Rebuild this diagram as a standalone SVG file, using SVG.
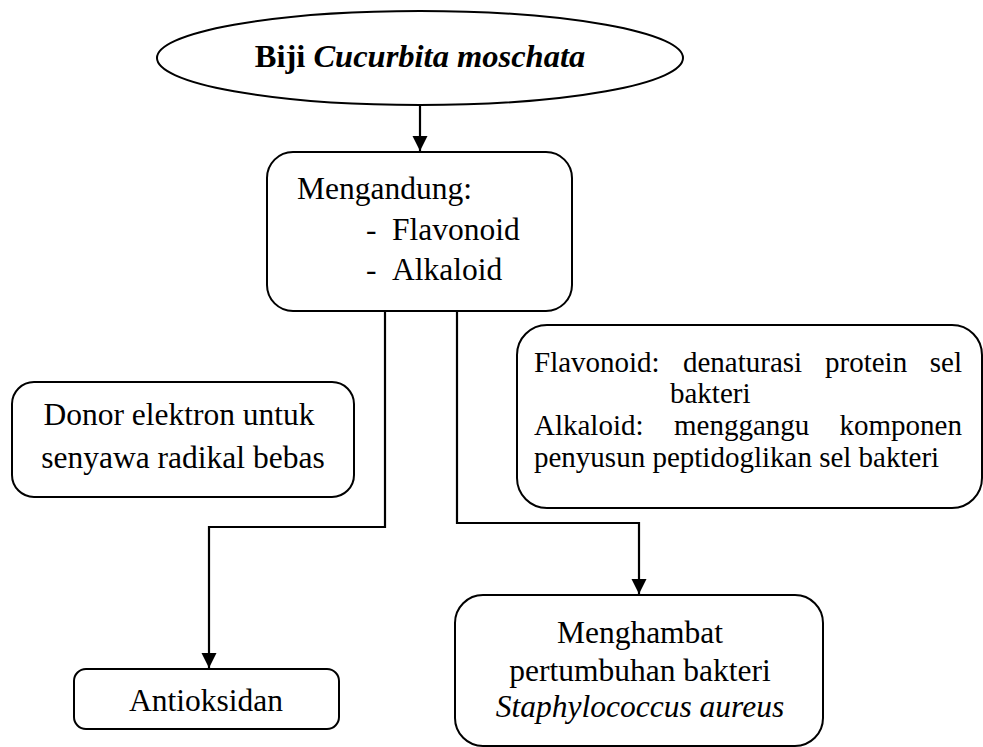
<svg xmlns="http://www.w3.org/2000/svg" width="983" height="747" viewBox="0 0 983 747">
<style>
.box{fill:#fff;stroke:#000;stroke-width:2}
.t{font-family:"Liberation Serif","Times New Roman",serif;font-size:31.5px;fill:#000}
.s{font-family:"Liberation Serif","Times New Roman",serif;font-size:29px;fill:#000}
.c{text-anchor:middle}
.line{fill:none;stroke:#000;stroke-width:2.2}
</style>
<defs>
<marker id="ah" markerWidth="15" markerHeight="16" refX="15" refY="7.5" orient="auto" markerUnits="userSpaceOnUse" viewBox="0 0 15 15">
<path d="M0,0 L15,7.5 L0,15 Z" fill="#000"/>
</marker>
</defs>
<rect width="983" height="747" fill="#fff"/>
<g id="connectors">
<path class="line" d="M420,105 V151" marker-end="url(#ah)"/>
<path class="line" d="M385,311 V527 H209 V668" marker-end="url(#ah)"/>
<path class="line" d="M457,311 V523 H639 V594" marker-end="url(#ah)"/>
</g>
<g id="biji">
<ellipse class="box" cx="420" cy="58" rx="263" ry="47"/>
<text class="t c" x="420" y="67" font-weight="bold" style="font-size:32.5px">Biji <tspan font-style="italic">Cucurbita moschata</tspan></text>
</g>
<g id="mengandung">
<rect class="box" x="267" y="152" width="305" height="159" rx="26"/>
<text class="t" x="297" y="199">Mengandung:</text>
<text class="t" x="366" y="240">-</text>
<text class="t" x="392" y="240">Flavonoid</text>
<text class="t" x="366" y="280">-</text>
<text class="t" x="392" y="280">Alkaloid</text>
</g>
<g id="donor">
<rect class="box" x="12" y="382" width="342" height="115" rx="22"/>
<text class="t c" x="179" y="425">Donor elektron untuk</text>
<text class="t c" x="183" y="468">senyawa radikal bebas</text>
</g>
<g id="mekanisme">
<rect class="box" x="517" y="325" width="465" height="183" rx="30"/>
<text class="s" x="534" y="372">Flavonoid:</text>
<text class="s" x="683" y="372">denaturasi</text>
<text class="s" x="825" y="372">protein</text>
<text class="s" x="962" y="372" text-anchor="end">sel</text>
<text class="s" x="670" y="403">bakteri</text>
<text class="s" x="534" y="435">Alkaloid:</text>
<text class="s" x="674" y="435">menggangu</text>
<text class="s" x="962" y="435" text-anchor="end">komponen</text>
<text class="s" x="534" y="467">penyusun peptidoglikan sel bakteri</text>
</g>
<g id="antioksidan">
<rect class="box" x="74" y="669" width="265" height="60" rx="12"/>
<text class="t c" x="206" y="711">Antioksidan</text>
</g>
<g id="menghambat">
<rect class="box" x="455" y="595" width="368" height="151" rx="28"/>
<text class="t c" x="640" y="643">Menghambat</text>
<text class="t c" x="640" y="681">pertumbuhan bakteri</text>
<text class="t c" x="640" y="717" font-style="italic">Staphylococcus aureus</text>
</g>
</svg>
